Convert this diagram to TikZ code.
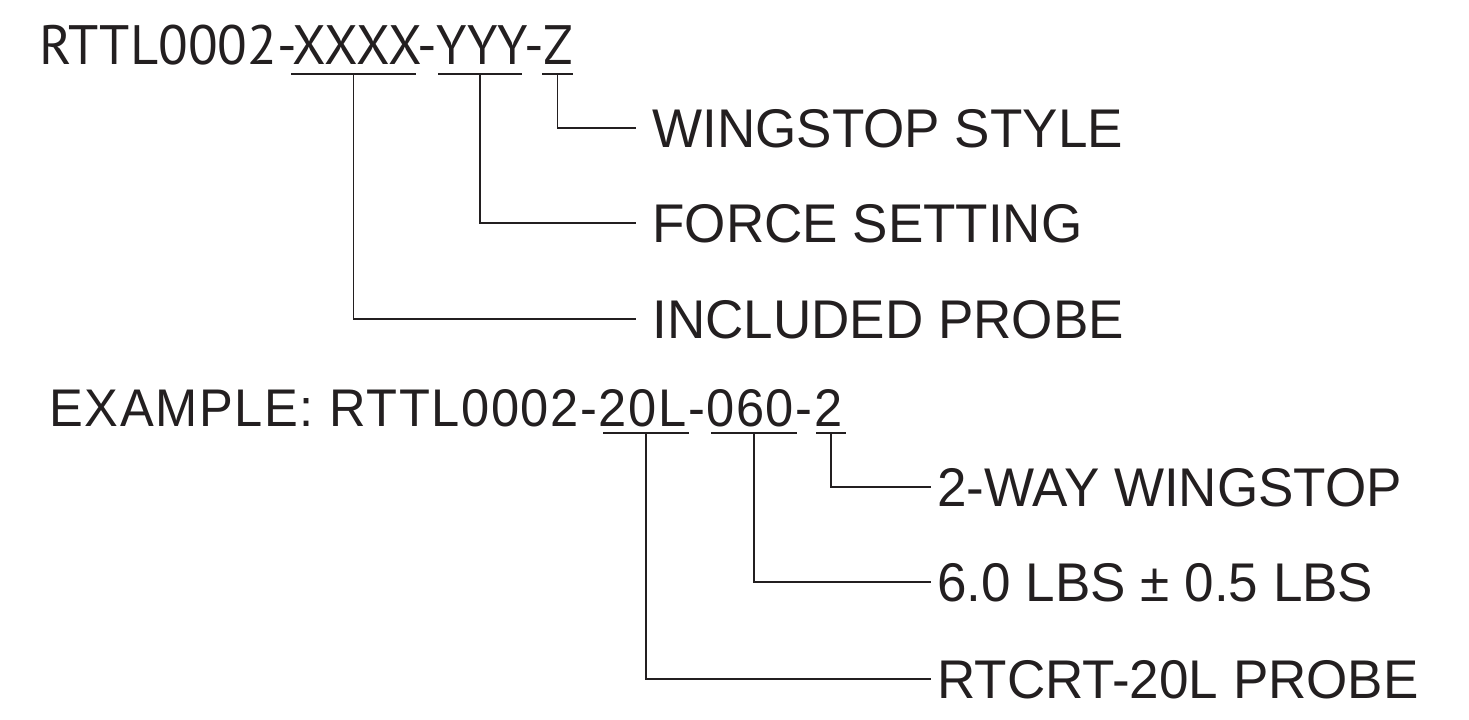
\documentclass[tikz,border=0pt]{standalone}
\usepackage{fontspec}
\setmainfont{Liberation Sans}
\newfontfamily\codefont{PT Sans}
\newfontfamily\lblfont[FakeStretch=0.973]{Liberation Sans}
\newfontfamily\exfont[FakeStretch=0.95,LetterSpace=3]{Liberation Sans}
\definecolor{ink}{RGB}{35,31,32}
\begin{document}
\begin{tikzpicture}[x=0.5pt,y=-0.5pt,
  lbl/.style={anchor=west, inner sep=0pt, text=ink,
    font=\lblfont\fontsize{27.25pt}{30pt}\selectfont, text height=19.5pt, text depth=0pt},
  code/.style={anchor=base west, inner sep=0pt, text=ink},
  ln/.style={line width=0.75pt, draw=ink}]
\useasboundingbox (0,0) rectangle (1469,719);

% ---- template code ----
\node[code] (code) at (39,64) {\resizebox{267pt}{19.75pt}{\codefont RTTL0002-XXXX-YYY-Z}};
\draw[ln] (291,74) -- (416,74);
\draw[ln] (438,74) -- (522,74);
\draw[ln] (542,74) -- (573,74);
\coordinate (uX) at (353.5,74);
\coordinate (uY) at (480,74);
\coordinate (uZ) at (557.5,74);

\node[lbl] (wing) at (652,128) {WINGSTOP STYLE};
\node[lbl] (force) at (652,223) {FORCE SETTING};
\node[lbl] (probe) at (652,319) {INCLUDED PROBE};

\draw[ln] (uZ) |- ([xshift=-8pt]wing.west);
\draw[ln] (uY) |- ([xshift=-8pt]force.west);
\draw[ln] (uX) |- ([xshift=-8pt]probe.west);

% ---- example ----
\node[code] (ex) at (49,426) {\resizebox{396.5pt}{18.5pt}{\exfont EXAMPLE: RTTL0002-20L-060-2}};
\draw[ln] (603,433) -- (689,433);
\draw[ln] (711,433) -- (797,433);
\draw[ln] (816,433) -- (846,433);
\coordinate (e1) at (646,433);
\coordinate (e2) at (754,433);
\coordinate (e3) at (831,433);

\node[lbl] (ewing) at (937,487) {2-WAY WINGSTOP};
\node[lbl] (eforce) at (937,582) {6.0 LBS ± 0.5 LBS};
\node[lbl] (eprobe) at (937,679) {RTCRT-20L PROBE};

\draw[ln] (e3) |- ([xshift=-3pt]ewing.west);
\draw[ln] (e2) |- ([xshift=-3pt]eforce.west);
\draw[ln] (e1) |- ([xshift=-3pt]eprobe.west);
\end{tikzpicture}
\end{document}
